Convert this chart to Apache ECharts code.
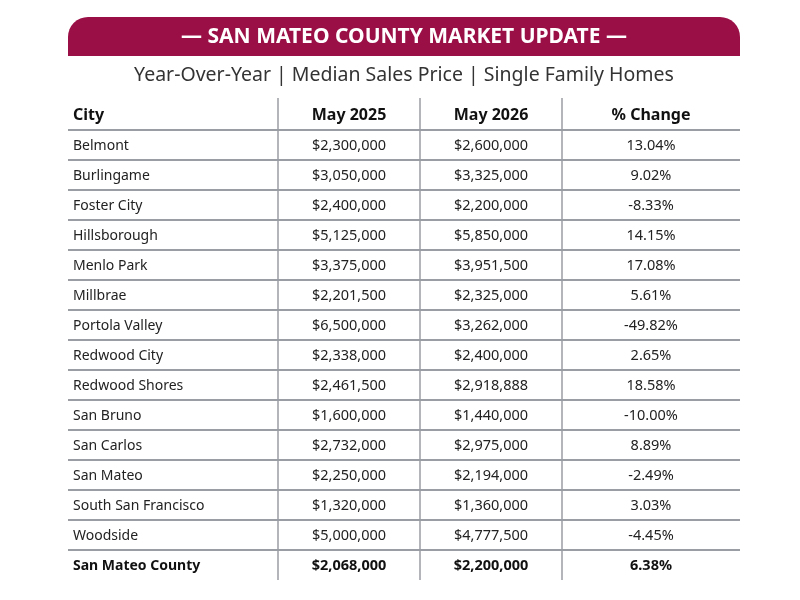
<!DOCTYPE html>
<html>
<head>
<meta charset="utf-8">
<script src="https://cdn.jsdelivr.net/npm/echarts@6/dist/echarts.min.js"></script>
<style>
html,body{margin:0;padding:0;background:#fff;}
#chart{width:800px;height:600px;}
</style>
</head>
<body>
<div id="chart"></div>
<script>
// ---- data ----
const headers = ['City', 'May 2025', 'May 2026', '% Change'];
const cities = ['Belmont', 'Burlingame', 'Foster City', 'Hillsborough', 'Menlo Park', 'Millbrae',
  'Portola Valley', 'Redwood City', 'Redwood Shores', 'San Bruno', 'San Carlos', 'San Mateo',
  'South San Francisco', 'Woodside', 'San Mateo County'];
const may2025 = [2300000, 3050000, 2400000, 5125000, 3375000, 2201500, 6500000, 2338000, 2461500,
  1600000, 2732000, 2250000, 1320000, 5000000, 2068000];
const may2026 = [2600000, 3325000, 2200000, 5850000, 3951500, 2325000, 3262000, 2400000, 2918888,
  1440000, 2975000, 2194000, 1360000, 4777500, 2200000];
const pctChange = [13.04, 9.02, -8.33, 14.15, 17.08, 5.61, -49.82, 2.65, 18.58, -10.00, 8.89, -2.49,
  3.03, -4.45, 6.38];
const titleText = '— SAN MATEO COUNTY MARKET UPDATE —';
const subtitleText = 'Year-Over-Year | Median Sales Price | Single Family Homes';

// ---- layout config ----
const COL_EDGES = [0, 210, 352, 494, 672]; // x-axis units (table width 672)
const LINE = '#9a9da4';
const FONT = '"Noto Sans", "Open Sans", sans-serif';

const money = v => '$' + v.toLocaleString('en-US');
const pct = v => v.toFixed(2) + '%';

const rowLabels = ['header'].concat(cities);
const rows = rowLabels.map((_, i) => [i]);
const nRows = rowLabels.length;

function cellTexts(i) {
  if (i === 0) return headers;
  const k = i - 1;
  return [cities[k], money(may2025[k]), money(may2026[k]), pct(pctChange[k])];
}

const chart = echarts.init(document.getElementById('chart'), null, {renderer: 'canvas'});
chart.setOption({
  animation: false,
  backgroundColor: '#fff',
  grid: {left: 68, right: 60, top: 100, bottom: 20},
  xAxis: {type: 'value', min: 0, max: 672, show: false},
  yAxis: {type: 'category', data: rowLabels, inverse: true, show: false},
  graphic: [
    {
      type: 'rect', left: 68, top: 17,
      shape: {width: 672, height: 39, r: [20, 20, 0, 0]},
      style: {fill: '#9b0f47'}
    },
    {
      type: 'text', x: 404, y: 37,
      style: {text: titleText, fill: '#fff', font: 'bold 21px ' + FONT, align: 'center', verticalAlign: 'middle'}
    },
    {
      type: 'text', x: 404, y: 75,
      style: {text: subtitleText, fill: '#333', font: '19.5px ' + FONT, align: 'center', verticalAlign: 'middle'}
    }
  ],
  series: [{
    type: 'custom',
    coordinateSystem: 'cartesian2d',
    data: rows,
    encode: {y: 0},
    renderItem: function (params, api) {
      const i = api.value(0);
      const c = api.coord([0, i]);
      const h = api.size([0, 1])[1];
      const yTop = c[1] - h / 2, yBot = c[1] + h / 2;
      const xs = COL_EDGES.map(e => api.coord([e, i])[0]);
      const header = i === 0;
      const bold = (header || i === nRows - 1);
      const texts = cellTexts(i);
      const children = [];
      texts.forEach((t, j) => {
        const left = j === 0;
        const size = header ? 16 : (left ? 14 : 14.5);
        children.push({
          type: 'text',
          style: {
            text: t,
            x: left ? xs[0] + 5 : (xs[j] + xs[j + 1]) / 2,
            y: header ? c[1] : c[1] + 1,
            align: left ? 'left' : 'center',
            verticalAlign: 'middle',
            font: (bold ? 'bold ' : '') + size + 'px ' + FONT,
            fill: bold ? '#111' : '#222'
          }
        });
      });
      if (i < nRows - 1) {
        children.push({
          type: 'line',
          shape: {x1: xs[0], y1: yBot, x2: xs[4], y2: yBot},
          style: {stroke: LINE, lineWidth: 2}
        });
      }
      for (let j = 1; j < 4; j++) {
        children.push({
          type: 'line',
          shape: {x1: xs[j], y1: header ? yTop - 2 : yTop, x2: xs[j], y2: yBot},
          style: {stroke: LINE, lineWidth: 1.5}
        });
      }
      return {type: 'group', children: children};
    }
  }]
});
</script>
</body>
</html>
